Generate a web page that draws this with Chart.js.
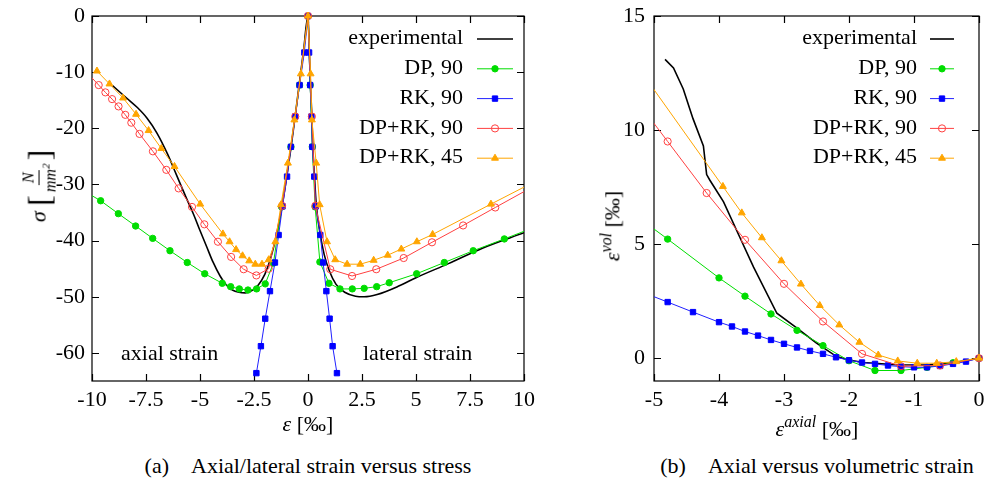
<!DOCTYPE html>
<html>
<head>
<meta charset="utf-8">
<script src="https://cdn.jsdelivr.net/npm/chart.js@4.4.1/dist/chart.umd.min.js"></script>
<style>
  html,body{margin:0;padding:0;background:#fff;}
  #wrap{position:relative;width:990px;height:481px;background:#fff;overflow:hidden;
        font-family:"Liberation Serif","Times New Roman",serif;color:#000;}
  .abs{position:absolute;white-space:nowrap;transform:translate(-50%,-50%);line-height:1;}
  .t22{font-size:22px;}
  .frac{display:inline-flex;flex-direction:column;align-items:center;vertical-align:middle;font-size:16px;line-height:1.05;margin:0 1px;}
  .frac .num{border-bottom:1px solid #000;padding:0 2px 1px 2px;}
  .frac .den{padding:1px 2px 0 2px;}
  .br{font-size:32px;vertical-align:middle;font-weight:200;}
</style>
</head>
<body>
<div id="wrap">
  <canvas id="ca" width="540" height="440" style="position:absolute;left:0;top:0;"></canvas>
  <canvas id="cb" width="430" height="440" style="position:absolute;left:560px;top:0;"></canvas>

  <div class="abs t22" style="left:121px;top:353px;transform:translate(0,-50%);">axial strain</div>
  <div class="abs t22" style="left:363px;top:353px;transform:translate(0,-50%);">lateral strain</div>

  <div class="abs t22" style="left:308px;top:424px;"><i>ε</i> [‰]</div>
  <div class="abs t22" style="left:817px;top:427px;"><i>ε</i><sup style="font-size:16px;"><i>axial</i></sup> [‰]</div>

  <div class="abs t22" style="left:40px;top:186px;transform:translate(-50%,-50%) rotate(-90deg);">
    <i>σ</i>&nbsp;<span class="br">[</span><span class="frac"><i class="num">N</i><i class="den">mm<sup style="font-size:11px;">2</sup></i></span><span class="br">]</span>
  </div>
  <div class="abs t22" style="left:611px;top:226px;transform:translate(-50%,-50%) rotate(-90deg);">
    <i>ε</i><sup style="font-size:16px;"><i>vol</i></sup> [‰]
  </div>

  <div class="abs" style="left:308px;top:466px;font-size:22px;">(a)&emsp;Axial/lateral strain versus stress</div>
  <div class="abs" style="left:817px;top:466px;font-size:22px;">(b)&emsp;Axial versus volumetric strain</div>
</div>

<script>
// ---------------- DATA ----------------
const seriesLabels = ['experimental', 'DP, 90', 'RK, 90', 'DP+RK, 90', 'DP+RK, 45'];

// Panel (a): strain ε [‰] (axial < 0, lateral > 0) vs stress σ [N/mm²]
const aExpStrain = [-9.05,-8.4,-7.9,-7.45,-7.0,-6.5,-6.1,-5.6,-5.3,-5.0,-4.7,-4.4,-4.07,-3.8,-3.5,-3.2,-2.9,-2.6,-2.3,-2.0,-1.8,-1.6,-1.4,-1.2,-1.0,-0.8,-0.6,-0.4,-0.2,0,0.06,0.11,0.18,0.22,0.3,0.38,0.55,0.75,1.0,1.3,1.7,2.2,2.6,3.2,4.2,5.0,6.5,8.1,10.0];
const aExpStress = [-12.4,-14.6,-16.3,-18.2,-20.8,-24.6,-28.2,-32.7,-35.3,-38.2,-41.0,-43.8,-46.3,-47.8,-48.8,-49.2,-49.3,-48.9,-47.9,-46.0,-44.0,-41.3,-38.0,-33.8,-29.0,-23.8,-18.0,-12.0,-6.0,0,-6.0,-12.0,-18.0,-23.0,-28.5,-33.5,-38.5,-42.5,-45.5,-47.8,-49.2,-49.9,-50.0,-49.6,-48.1,-46.6,-44.1,-41.3,-38.6];

const aDpStrain = [-10.4,-9.6,-8.78,-7.98,-7.19,-6.39,-5.59,-4.78,-3.97,-3.58,-3.18,-2.78,-2.38,-1.98,-1.6,-1.22,-0.79,-0.39,0,0.1,0.2,0.33,0.55,0.97,1.48,2.05,2.6,3.18,3.76,5.03,6.31,7.65,9.09,10.5];
const aDpStress = [-31.1,-32.9,-35.2,-37.4,-39.6,-41.8,-43.9,-45.9,-47.6,-48.2,-48.6,-48.8,-48.6,-47.7,-44.0,-34.0,-23.3,-12.3,0,-12.3,-23.3,-34.0,-43.8,-47.6,-48.6,-48.6,-48.5,-48.2,-47.5,-45.9,-43.9,-41.8,-39.7,-37.6];

const aRkStrain = [-2.39,-2.18,-1.98,-1.76,-1.53,-1.36,-1.18,-0.97,-0.79,-0.59,-0.39,-0.17,0,0.05,0.1,0.16,0.2,0.29,0.36,0.57,0.7,0.85,1.0,1.14,1.34];
const aRkStress = [-63.6,-58.8,-53.9,-49.0,-43.9,-39.0,-33.9,-28.6,-23.3,-17.9,-12.3,-6.5,0,-6.5,-12.3,-17.9,-23.3,-28.6,-33.9,-39.0,-43.9,-49.0,-53.9,-58.8,-63.6];

const aDpRk90Strain = [-10.3,-9.69,-9.38,-9.07,-8.77,-8.46,-8.18,-7.8,-7.18,-6.56,-5.99,-5.37,-4.8,-4.17,-3.56,-2.98,-2.39,-1.82,-1.2,-0.59,0,0.18,0.34,1.03,2.04,3.16,4.43,5.74,7.18,8.67,10.6];
const aDpRk90Stress = [-9.8,-12.3,-13.6,-14.8,-16.1,-17.6,-19.0,-21.0,-24.1,-27.4,-30.7,-34.0,-37.1,-40.2,-42.9,-45.1,-46.2,-45.0,-33.8,-17.9,0,-17.9,-33.8,-45.1,-46.3,-45.1,-43.1,-40.3,-37.3,-34.1,-30.0];

const aDpRk45Strain = [-9.77,-9.19,-8.56,-7.96,-7.38,-6.79,-6.18,-4.99,-3.94,-3.63,-3.33,-3.03,-2.72,-2.44,-2.13,-1.82,-1.51,-1.25,-0.93,-0.63,-0.33,0,0.12,0.18,0.38,0.54,0.88,1.26,1.81,2.42,3.04,3.69,4.32,5.04,5.77,8.47,11.2];
const aDpRk45Stress = [-9.8,-12.1,-14.6,-17.5,-20.4,-23.6,-26.8,-33.5,-38.8,-40.2,-41.6,-42.7,-43.6,-44.2,-44.2,-43.4,-40.2,-33.6,-26.2,-18.5,-10.3,0,-10.3,-18.5,-26.2,-33.6,-40.2,-43.4,-44.2,-44.2,-43.5,-42.6,-41.5,-40.2,-38.9,-33.5,-28.1];

// Panel (b): axial strain [‰] vs volumetric strain [‰]
const bExpAxial = [-4.83,-4.70,-4.55,-4.40,-4.24,-4.19,-4.14,-3.93,-3.68,-3.47,-3.11,-2.8,-2.5,-2.19,-2.0,-1.78,-1.27,-0.8,-0.4,0];
const bExpVol   = [13.1,12.72,11.8,10.5,9.3,8.05,7.8,6.85,5.3,4.0,1.97,1.32,0.66,0.07,-0.08,-0.19,-0.29,-0.3,-0.2,0];

const bDpAxial = [-5.2,-4.79,-4.0,-3.6,-3.2,-2.8,-2.4,-2.0,-1.6,-1.2,-0.8,-0.4,0];
const bDpVol   = [6.08,5.22,3.52,2.72,1.94,1.22,0.55,-0.11,-0.54,-0.54,-0.4,-0.2,0];

const bRkAxial = [-5.2,-4.79,-4.4,-4.0,-3.8,-3.6,-3.4,-3.2,-3.0,-2.8,-2.6,-2.4,-2.2,-2.0,-1.8,-1.6,-1.4,-1.2,-1.0,-0.8,-0.6,-0.4,-0.2,0];
const bRkVol   = [2.92,2.46,2.02,1.58,1.39,1.17,0.99,0.8,0.63,0.47,0.32,0.19,0.04,-0.09,-0.19,-0.25,-0.32,-0.37,-0.4,-0.4,-0.34,-0.25,-0.15,0];

const bDpRk90Axial = [-5.4,-4.79,-4.19,-3.6,-3.0,-2.4,-1.8,-1.2,-0.6,0];
const bDpRk90Vol   = [11.8,9.5,7.24,5.19,3.26,1.61,0.19,-0.35,-0.32,0];

const bDpRk45Axial = [-5.3,-3.94,-3.65,-3.34,-3.04,-2.74,-2.45,-2.15,-1.84,-1.55,-1.25,-0.95,-0.65,-0.35,0];
const bDpRk45Vol   = [12.97,7.53,6.37,5.28,4.27,3.25,2.31,1.46,0.7,0.14,-0.12,-0.22,-0.22,-0.15,0];

// Tick labels
const aXTicks = [-10,-7.5,-5,-2.5,0,2.5,5,7.5,10];
const aYTicks = [0,-10,-20,-30,-40,-50,-60];
const bXTicks = [-5,-4,-3,-2,-1,0];
const bYTicks = [0,5,10,15];

// ---------------- STYLE ----------------
const FONT = '"Liberation Serif","Times New Roman",serif';
Chart.defaults.font.family = FONT;
Chart.defaults.font.size = 22;
Chart.defaults.color = '#000';

const styles = [
  {borderColor:'#000000', borderWidth:1.6, pointRadius:0, order:5},
  {borderColor:'#00dd00', backgroundColor:'#00dd00', pointBackgroundColor:'#00dd00', pointBorderColor:'#00dd00', borderWidth:1, pointStyle:'circle', pointRadius:3.2, pointBorderWidth:1, order:4},
  {borderColor:'#2020ff', backgroundColor:'#0000ff', pointBackgroundColor:'#0000ff', pointBorderColor:'#0000ff', borderWidth:1, pointStyle:'rect', pointRadius:3.8, pointBorderWidth:1, order:3},
  {borderColor:'#ff4040', backgroundColor:'rgba(255,255,255,0)', pointBackgroundColor:'rgba(255,255,255,0)', pointBorderColor:'#ff4040', borderWidth:1, pointStyle:'circle', pointRadius:3.6, pointBorderWidth:1, order:2},
  {borderColor:'#ffa500', backgroundColor:'#ffa500', pointBackgroundColor:'#ffa500', pointBorderColor:'#ffa500', borderWidth:1, pointStyle:'triangle', pointRadius:4, pointBorderWidth:1, order:1}
];

function makeDs(i, xs, ys, clip, extra) {
  return Object.assign({
    label: seriesLabels[i],
    data: xs.map((x, k) => ({x: x, y: ys[k]})),
    showLine: true,
    fill: false,
    tension: 0,
    clip: clip,
    pointHoverRadius: 0
  }, styles[i], extra || {});
}

const fmt = v => String(v);

const framePlugin = {
  id: 'frame',
  beforeDatasetsDraw(chart, args, o) {
    const ctx = chart.ctx, c = chart.chartArea, xs = chart.scales.x, ys = chart.scales.y;
    ctx.save();
    ctx.strokeStyle = '#000';
    ctx.lineWidth = 1.2;
    ctx.strokeRect(c.left, c.top, c.right - c.left, c.bottom - c.top);
    ctx.beginPath();
    o.xTicks.forEach(v => {
      const p = Math.round(xs.getPixelForValue(v)) + 0.5;
      ctx.moveTo(p, c.bottom); ctx.lineTo(p, c.bottom - o.len);
      ctx.moveTo(p, c.top); ctx.lineTo(p, c.top + o.len);
    });
    o.yTicks.forEach(v => {
      const p = Math.round(ys.getPixelForValue(v)) + 0.5;
      ctx.moveTo(c.left, p); ctx.lineTo(c.left + o.len, p);
      ctx.moveTo(c.right, p); ctx.lineTo(c.right - o.len, p);
    });
    ctx.stroke();
    ctx.restore();
  }
};

const keyPlugin = {
  id: 'gnuKey',
  afterDraw(chart, args, o) {
    const ctx = chart.ctx;
    ctx.save();
    chart.data.datasets.forEach((d, i) => {
      const y = o.top + i * o.step;
      ctx.font = '22px ' + FONT;
      ctx.fillStyle = '#000';
      ctx.textAlign = 'right';
      ctx.textBaseline = 'middle';
      ctx.fillText(d.label, o.textRight, y);
      ctx.strokeStyle = d.borderColor;
      ctx.lineWidth = d.borderWidth;
      ctx.beginPath();
      ctx.moveTo(o.x0, y + 0.5); ctx.lineTo(o.x1, y + 0.5);
      ctx.stroke();
      if (d.pointRadius > 0) {
        ctx.fillStyle = d.pointBackgroundColor;
        ctx.strokeStyle = d.pointBorderColor;
        ctx.lineWidth = d.pointBorderWidth;
        Chart.helpers.drawPoint(ctx, {pointStyle: d.pointStyle, rotation: 0, radius: d.pointRadius, borderWidth: d.pointBorderWidth}, (o.x0 + o.x1) / 2, y + 0.5);
      }
    });
    ctx.restore();
  }
};

function axis(min, max, ticksArr, pad, fitFn) {
  return {
    type: 'linear', min: min, max: max,
    grid: {display: false, drawTicks: false},
    border: {display: false},
    afterBuildTicks: s => { s.ticks = ticksArr.map(v => ({value: v})); },
    afterFit: fitFn,
    ticks: {padding: pad, color: '#000', font: {size: 22, family: FONT}, maxRotation: 0, minRotation: 0, autoSkip: false, callback: v => fmt(v)}
  };
}

// ---------------- CHART (a) ----------------
const clipA = {left: 0, top: 6, right: 0, bottom: 0};
new Chart(document.getElementById('ca'), {
  type: 'scatter',
  data: {
    datasets: [
      makeDs(0, aExpStrain, aExpStress, clipA, {cubicInterpolationMode: 'monotone'}),
      makeDs(1, aDpStrain, aDpStress, clipA),
      makeDs(2, aRkStrain, aRkStress, clipA),
      makeDs(3, aDpRk90Strain, aDpRk90Stress, clipA),
      makeDs(4, aDpRk45Strain, aDpRk45Stress, clipA)
    ]
  },
  options: {
    responsive: false, animation: false, events: [],
    layout: {padding: {top: 16, right: 16, left: 0, bottom: 0}},
    plugins: {
      legend: {display: false}, tooltip: {enabled: false},
      frame: {xTicks: aXTicks, yTicks: aYTicks, len: 7},
      gnuKey: {top: 38.5, step: 29.8, textRight: 463, x0: 477, x1: 513}
    },
    scales: {
      x: axis(-10, 10, aXTicks, 6, s => { s.height = 59; s.paddingLeft = 0; s.paddingRight = 0; }),
      y: axis(-65, 0, aYTicks, 7, s => { s.width = 92; s.paddingTop = 0; s.paddingBottom = 0; })
    }
  },
  plugins: [framePlugin, keyPlugin]
});

// ---------------- CHART (b) ----------------
const clipB = {left: 0, top: 0, right: 6, bottom: 0};
new Chart(document.getElementById('cb'), {
  type: 'scatter',
  data: {
    datasets: [
      makeDs(0, bExpAxial, bExpVol, clipB),
      makeDs(1, bDpAxial, bDpVol, clipB),
      makeDs(2, bRkAxial, bRkVol, clipB),
      makeDs(3, bDpRk90Axial, bDpRk90Vol, clipB),
      makeDs(4, bDpRk45Axial, bDpRk45Vol, clipB)
    ]
  },
  options: {
    responsive: false, animation: false, events: [],
    layout: {padding: {top: 16, right: 11, left: 0, bottom: 0}},
    plugins: {
      legend: {display: false}, tooltip: {enabled: false},
      frame: {xTicks: bXTicks, yTicks: bYTicks, len: 7},
      gnuKey: {top: 38.5, step: 29.8, textRight: 357, x0: 370, x1: 394}
    },
    scales: {
      x: axis(-5, 0, bXTicks, 6, s => { s.height = 59; s.paddingLeft = 0; s.paddingRight = 0; }),
      y: axis(-1, 15, bYTicks, 9, s => { s.width = 94; s.paddingTop = 0; s.paddingBottom = 0; })
    }
  },
  plugins: [framePlugin, keyPlugin]
});
</script>
</body>
</html>
